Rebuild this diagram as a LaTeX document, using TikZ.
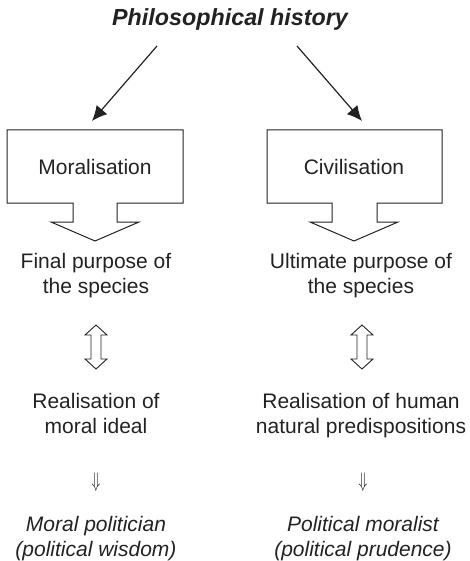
\documentclass[tikz,border=0pt]{standalone}
\usepackage{fontspec}
\setmainfont{Liberation Sans}
\usetikzlibrary{arrows.meta}
\definecolor{ink}{HTML}{222222}
\begin{document}
\begin{tikzpicture}[x=1pt,y=-1pt,
  txt/.style={font=\fontsize{21}{25}\selectfont, text=ink, align=center, inner sep=0pt, anchor=base},
  itxt/.style={txt, font=\fontsize{21}{25}\selectfont\itshape},
  ttl/.style={font=\fontsize{23.3}{28}\selectfont\bfseries\itshape, text=ink, inner sep=0pt, anchor=base},
  blk/.style={draw=ink, line width=1pt, line join=miter},
  hollow/.style={draw=ink, line width=0.9pt, line join=miter},
  conn/.style={draw=ink, line width=1.2pt, -{Latex[length=15pt,width=14pt]}},
  dar/.style={text=ink, inner sep=0pt}
]
\useasboundingbox (0,0) rectangle (469,561);

% title
\node[ttl] (title) at (230,26) {Philosophical history};

% arrows from title
\coordinate (ls) at (157,46);
\coordinate (lt) at (92,121);
\coordinate (rs) at (297,46);
\coordinate (rt) at (362,121);
\draw[conn] (ls) -- (lt);
\draw[conn] (rs) -- (rt);

% left block-arrow box
\draw[blk] (7,130) -- (183,130) -- (183,203) -- (117,203) -- (117,222) -- (139,222)
  -- (95,241) -- (51,222) -- (73,222) -- (73,203) -- (7,203) -- cycle;
\node[txt] (mor) at (95,175) {Moralisation};

% right block-arrow box
\draw[blk] (267,130) -- (442,130) -- (442,203) -- (377,203) -- (377,222) -- (398,222)
  -- (354,241) -- (310,222) -- (332,222) -- (332,203) -- (267,203) -- cycle;
\node[txt] (civ) at (354,175) {Civilisation};

% purpose texts (anchor = baseline of last line)
\node[txt] (fp) at (96,293) {Final purpose of\\the species};
\node[txt] (up) at (361,293) {Ultimate purpose of\\the species};

% hollow double arrows
\foreach \c in {96,362}{
  \draw[hollow] (\c,325) -- (\c+11,335) -- (\c+5,335) -- (\c+5,359) -- (\c+11,359)
    -- (\c,369) -- (\c-11,359) -- (\c-5,359) -- (\c-5,335) -- (\c-11,335) -- cycle;
}

% realisation texts
\node[txt] (rm) at (96,433) {Realisation of\\moral ideal};
\node[txt] (rh) at (361,433) {Realisation of human\\natural predispositions};

% implies arrows
\node[dar] (d1) at (96,482) {\scalebox{1.5}[2.1]{$\Downarrow$}};
\node[dar] (d2) at (363,482) {\scalebox{1.5}[2.1]{$\Downarrow$}};

% outcomes
\node[itxt] (mp) at (96,556) {Moral politician\\(political wisdom)};
\node[itxt] (pm) at (363,556) {Political moralist\\(political prudence)};
\end{tikzpicture}
\end{document}
